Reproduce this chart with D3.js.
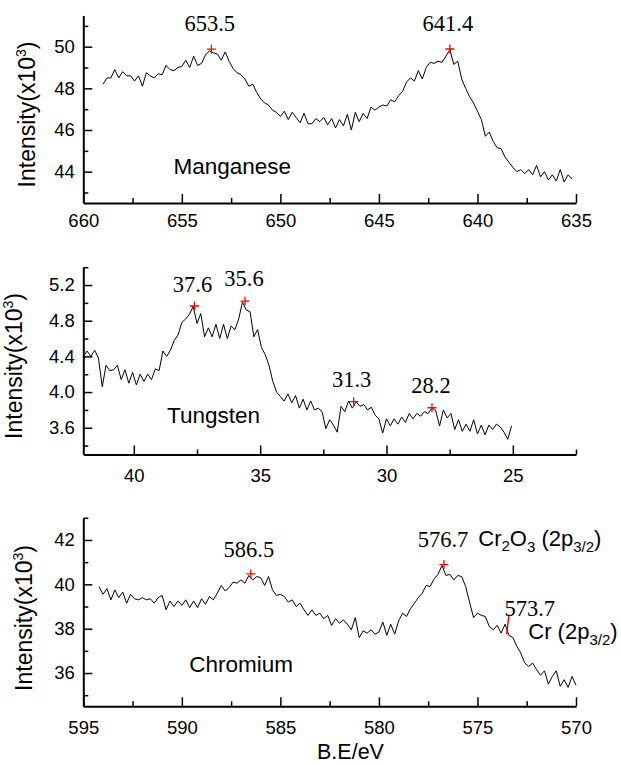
<!DOCTYPE html>
<html><head><meta charset="utf-8">
<script src="https://cdn.jsdelivr.net/npm/d3@7"></script>
<style>body{margin:0;background:#fff} svg{display:block}</style>
</head><body>
<svg id="c" width="621" height="765"></svg>
<script>
// ---------------- DATA ----------------
// Manganese (B.E. 659.0 -> 635.2 eV, evenly sampled)
const mnStart = 659.0, mnEnd = 635.2;
const mnIntensity = [
48.2,48.5,48.5,48.9,48.5,48.8,48.6,48.6,48.35,48.6,
48.1,48.75,48.6,48.5,48.7,48.65,49.1,48.9,48.85,49.0,
49.05,49.35,49.0,49.55,49.1,49.2,49.6,49.8,49.7,49.65,
49.35,49.75,49.3,48.95,48.75,48.65,48.45,48.1,48.2,47.8,
47.5,47.3,47.2,46.95,46.85,46.65,46.9,46.5,46.85,46.6,
46.35,46.8,46.3,46.3,46.55,46.4,46.6,46.25,46.55,46.1,
46.5,46.2,46.75,46.0,46.85,46.4,46.8,46.55,47.1,46.95,
47.1,47.2,47.15,47.45,47.35,47.65,47.85,48.3,48.5,48.35,
48.85,48.45,49.0,49.25,49.2,49.3,49.25,49.55,49.85,49.15,
49.3,48.45,48.0,47.6,47.3,46.9,46.5,45.7,45.9,45.45,
45.15,45.1,44.7,44.45,44.2,44.0,44.1,43.9,44.1,43.85,
44.3,43.75,44.0,43.6,43.85,43.55,44.1,43.5,43.85,43.65];
const mnPeaks = [{e:653.5,i:49.88,label:"653.5"},{e:641.4,i:49.89,label:"641.4"}];
const mnXTicks = [660,655,650,645,640,635];
const mnXMinor = [657.5,652.5,647.5,642.5,637.5];
const mnYTicks = [44,46,48,50];
const mnYMinor = [43,45,47,49,51];

// Tungsten (B.E. 42.0 -> 25.05 eV)
const wStart = 42.0, wEnd = 25.05;
const wIntensity = [
4.40,4.46,4.40,4.47,4.38,4.06,4.30,4.24,4.25,4.30,
4.14,4.25,4.10,4.22,4.08,4.20,4.12,4.20,4.14,4.26,
4.24,4.46,4.40,4.47,4.58,4.64,4.78,4.82,4.87,4.96,
4.77,4.88,4.62,4.72,4.62,4.76,4.60,4.76,4.60,4.74,
4.70,4.82,5.01,4.92,4.90,4.62,4.70,4.50,4.42,4.30,
4.12,4.00,3.95,3.90,3.98,3.88,3.96,3.82,3.92,3.80,
3.90,3.80,3.82,3.78,3.59,3.69,3.63,3.55,3.84,3.78,
3.90,3.82,3.89,3.84,3.86,3.80,3.83,3.74,3.70,3.54,
3.70,3.62,3.70,3.64,3.72,3.66,3.76,3.70,3.76,3.73,
3.78,3.76,3.82,3.79,3.62,3.80,3.71,3.76,3.58,3.69,
3.56,3.64,3.56,3.69,3.53,3.63,3.52,3.63,3.58,3.64,
3.61,3.55,3.47,3.62];
const wPeaks = [{e:37.6,i:4.965,label:"37.6"},{e:35.6,i:5.02,label:"35.6"},
                {e:31.3,i:3.892,label:"31.3"},{e:28.2,i:3.824,label:"28.2"}];
const wXTicks = [40,35,30,25];
const wXMinor = [37.5,32.5,27.5,22.5];
const wYTicks = [3.6,4.0,4.4,4.8,5.2];
const wYMinor = [3.4,3.8,4.2,4.6,5.0,5.4];

// Chromium (B.E. 594.2 -> 570.0 eV)
const crStart = 594.2, crEnd = 570.0;
const crIntensity = [
39.9,39.55,39.8,39.3,39.75,39.4,39.65,39.15,39.55,39.35,
39.3,39.4,39.3,39.35,39.15,39.4,39.5,38.85,39.25,39.0,
39.25,39.05,39.3,38.95,39.25,38.95,39.35,39.1,39.45,39.3,
39.6,39.95,39.7,39.85,40.1,40.05,40.2,40.05,40.4,40.2,
40.35,40.3,39.95,40.35,39.75,39.5,39.55,39.45,39.2,39.3,
39.0,39.15,38.85,38.6,38.85,38.6,38.7,38.45,38.6,38.15,
38.45,38.25,38.4,38.2,37.95,38.5,37.6,37.9,37.8,37.95,
37.75,37.85,38.3,37.7,38.2,37.75,38.35,38.7,38.55,38.9,
39.15,39.4,39.6,39.95,39.9,40.25,40.45,40.85,40.4,40.45,
40.2,40.4,40.35,39.9,39.2,38.5,38.7,38.6,38.55,38.1,
37.95,38.15,37.8,38.2,37.7,37.6,37.2,36.9,36.45,36.3,
36.45,36.15,35.9,36.1,35.5,35.85,36.1,35.4,35.7,35.35,
35.85,35.45];
const crPeaks = [{e:586.5,i:40.47,label:"586.5"},{e:576.7,i:40.89,label:"576.7"}];
const crShoulder = {label:"573.7", eTop:573.4, iTop:38.65, eBot:573.52, iBot:37.75};
const crXTicks = [595,590,585,580,575,570];
const crXMinor = [592.5,587.5,582.5,577.5,572.5];
const crYTicks = [36,38,40,42];
const crYMinor = [35,37,39,41,43];

// ---------------- LAYOUT ----------------
const SANS = "'Liberation Sans', Arial, sans-serif";
const SERIF = "'Liberation Serif', 'Times New Roman', serif";
const LEFT = 83.3, RIGHT = 576;
const svg = d3.select("#c");

const panels = [
 {start:mnStart,end:mnEnd,vals:mnIntensity,xDom:[660,635],yDom:[42.5,51.5],top:15.45,bottom:202.9,
  xTicks:mnXTicks,xMinor:mnXMinor,yTicks:mnYTicks,yMinor:mnYMinor,yFmt:d3.format("d"),
  peaks:mnPeaks,peakOff:[[-1.7,-18],[-2,-18]],name:"Manganese",nameX:173.5,nameY:173.8,
  ylabX:35,ylabY:114.5,xlabY:24.3},
 {start:wStart,end:wEnd,vals:wIntensity,xDom:[42,22.5],yDom:[3.3,5.4],top:267.2,bottom:454.5,
  xTicks:wXTicks,xMinor:wXMinor,yTicks:wYTicks,yMinor:wYMinor,yFmt:d3.format(".1f"),
  peaks:wPeaks,peakOff:[[-2,-14],[-1,-15],[-2,-15],[-1,-15]],name:"Tungsten",nameX:167.1,nameY:423.3,
  ylabX:22,ylabY:366,xlabY:27.5},
 {start:crStart,end:crEnd,vals:crIntensity,xDom:[595,570],yDom:[34.5,43],top:517.8,bottom:706.3,
  xTicks:crXTicks,xMinor:crXMinor,yTicks:crYTicks,yMinor:crYMinor,yFmt:d3.format("d"),
  peaks:crPeaks,peakOff:[[-2,-17],[-1,-18]],name:"Chromium",nameX:189.3,nameY:672.3,
  ylabX:32,ylabY:618,xlabY:27.5}
];

function plus(g, x, y) {
  const s = 4.5;
  g.append("path").attr("d", `M${x-s},${y}H${x+s}M${x},${y-s}V${y+s}`)
   .attr("stroke","#ff0000").attr("stroke-width",1.3).attr("fill","none");
}

panels.forEach((p, idx) => {
  const x = d3.scaleLinear().domain(p.xDom).range([LEFT, RIGHT]);
  const y = d3.scaleLinear().domain(p.yDom).range([p.bottom, p.top]);
  const g = svg.append("g");
  const n = p.vals.length;
  const step = (p.start - p.end) / (n - 1);
  const pts = p.vals.map((v, i) => [p.start - i * step, v]);

  // curve
  g.append("path").datum(pts)
   .attr("d", d3.line().x(d => x(d[0])).y(d => y(d[1])))
   .attr("fill","none").attr("stroke","#000").attr("stroke-width",1).attr("stroke-linejoin","round");

  // axes - minor
  g.append("g").attr("transform",`translate(0,${p.bottom})`)
   .call(d3.axisBottom(x).tickValues(p.xMinor).tickSize(-5).tickFormat(""))
   .call(a => a.select(".domain").remove())
   .call(a => a.selectAll("line").attr("stroke-width",1.5));
  g.append("g").attr("transform",`translate(${LEFT},0)`)
   .call(d3.axisLeft(y).tickValues(p.yMinor).tickSize(-5).tickFormat(""))
   .call(a => a.select(".domain").remove())
   .call(a => a.selectAll("line").attr("stroke-width",1.5));

  // axes - major
  const xa = g.append("g").attr("transform",`translate(0,${p.bottom})`)
   .call(d3.axisBottom(x).tickValues(p.xTicks).tickSize(-9).tickSizeOuter(0).tickFormat(d3.format("d")));
  xa.select(".domain").attr("stroke-width",2);
  xa.selectAll("line").attr("stroke-width",1.5);
  xa.selectAll("text").attr("y", p.xlabY).attr("dy", null)
    .style("font-family",SANS).style("font-size","18.5px").attr("fill","#000");

  const ya = g.append("g").attr("transform",`translate(${LEFT},0)`)
   .call(d3.axisLeft(y).tickValues(p.yTicks).tickSize(-9).tickSizeOuter(0).tickPadding(8.5).tickFormat(p.yFmt));
  ya.select(".domain").attr("stroke-width",2);
  ya.selectAll("line").attr("stroke-width",1.5);
  ya.selectAll("text").style("font-family",SANS).style("font-size","18.5px").attr("fill","#000");

  // y label
  const yl = g.append("text").attr("transform",`translate(${p.ylabX},${p.ylabY}) rotate(-90)`)
   .attr("text-anchor","middle").style("font-family",SANS).style("font-size","23px");
  yl.append("tspan").text("Intensity(x10");
  yl.append("tspan").attr("dy",-9).style("font-size","14px").text("3");
  yl.append("tspan").attr("dy",9).text(")");

  // element name
  g.append("text").attr("x",p.nameX).attr("y",p.nameY).style("font-family",SANS)
   .style("font-size","22.5px").text(p.name);

  // peaks
  p.peaks.forEach((pk, k) => {
    const px = x(pk.e), py = y(pk.i);
    plus(g, px, py);
    g.append("text").attr("x", px + p.peakOff[k][0]).attr("y", py + p.peakOff[k][1])
     .attr("text-anchor","middle").style("font-family",SERIF).style("font-size","22.5px").text(pk.label);
  });

  if (idx === 2) {
    // shoulder marker
    g.append("line").attr("x1",x(crShoulder.eTop)).attr("y1",y(crShoulder.iTop))
     .attr("x2",x(crShoulder.eBot)).attr("y2",y(crShoulder.iBot))
     .attr("stroke","#ff0000").attr("stroke-width",1.5);
    g.append("text").attr("x", x(crShoulder.eTop) - 4.5).attr("y", y(crShoulder.iTop) + 2)
     .style("font-family",SERIF).style("font-size","22.5px").text(crShoulder.label);
    // Cr2O3 label
    const t1 = g.append("text").attr("x",478.3).attr("y",545.5).style("font-family",SANS).style("font-size","22px");
    t1.append("tspan").text("Cr");
    t1.append("tspan").attr("dy",5).style("font-size","15px").text("2");
    t1.append("tspan").attr("dy",-5).text("O");
    t1.append("tspan").attr("dy",6).style("font-size","15px").text("3");
    t1.append("tspan").attr("dy",-6).text(" (2p");
    t1.append("tspan").attr("dy",6).style("font-size","15px").text("3/2");
    t1.append("tspan").attr("dy",-6).text(")");
    const t2 = g.append("text").attr("x",528.3).attr("y",638.5).style("font-family",SANS).style("font-size","22px");
    t2.append("tspan").text("Cr (2p");
    t2.append("tspan").attr("dy",6).style("font-size","15px").text("3/2");
    t2.append("tspan").attr("dy",-6).text(")");
  }
});

// x axis title
svg.append("text").attr("x",350.5).attr("y",759).attr("text-anchor","middle")
  .style("font-family",SANS).style("font-size","21.5px").text("B.E/eV");
</script>
</body></html>
